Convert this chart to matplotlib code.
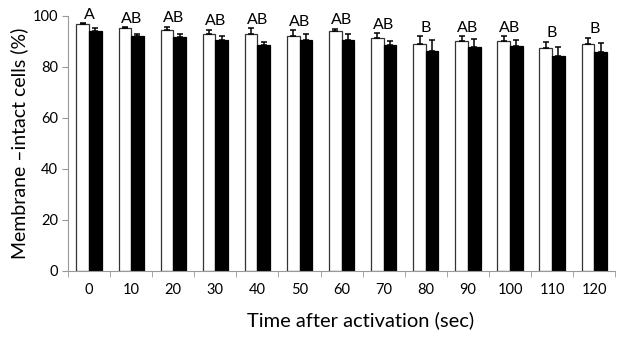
import numpy as np
from matplotlib import pyplot as plt

plt.rcParams["font.family"] = ["Lato", "DejaVu Sans"]

times = ["0", "10", "20", "30", "40", "50", "60", "70", "80", "90", "100", "110", "120"]
white_vals = [96.7, 95.0, 94.3, 92.8, 92.8, 92.2, 94.1, 91.4, 88.9, 90.1, 90.2, 87.3, 88.8]
white_err = [0.3, 0.4, 1.4, 1.7, 2.2, 2.0, 0.7, 1.7, 3.0, 1.9, 1.8, 2.5, 2.6]
black_vals = [93.9, 92.2, 91.5, 90.6, 88.7, 90.5, 90.6, 88.4, 86.2, 87.7, 88.0, 84.1, 85.6]
black_err = [1.2, 0.5, 1.4, 1.6, 0.8, 2.2, 2.1, 1.6, 4.4, 3.0, 2.3, 3.8, 3.6]
letters = ["A", "AB", "AB", "AB", "AB", "AB", "AB", "AB", "B", "AB", "AB", "B", "B"]

fig = plt.figure(figsize=(6.24, 3.38), dpi=100)
ax = fig.add_axes([0.109, 0.199, 0.877, 0.7546])

x = np.arange(len(times))
w = 0.3
ax.bar(x - w / 2, white_vals, w, color="white", edgecolor="#333333", linewidth=0.9,
       yerr=[np.zeros(len(x)), white_err], capsize=2.5,
       error_kw=dict(ecolor="black", elinewidth=1.1, capthick=1.1))
ax.bar(x + w / 2, black_vals, w, color="black", edgecolor="black", linewidth=0.9,
       yerr=[np.zeros(len(x)), black_err], capsize=2.5,
       error_kw=dict(ecolor="black", elinewidth=1.1, capthick=1.1))

tops = np.maximum(np.add(white_vals, white_err), np.add(black_vals, black_err))
for xi, top, lab in zip(x, tops, letters):
    ax.text(xi, top + 0.6, lab, ha="center", va="bottom", fontsize=11.5, clip_on=False)

ax.set_xlim(-0.5, len(times) - 0.5)
ax.set_ylim(0, 100)
ax.set_yticks(range(0, 101, 20))
ax.set_xticks(x)
ax.set_xticklabels(times)
ax.set_xticks(np.arange(-0.5, len(times), 1.0), minor=True)
ax.tick_params(axis="x", which="major", length=0, pad=9, labelsize=10.5)
ax.tick_params(axis="x", which="minor", length=4, color="#999999")
ax.tick_params(axis="y", length=4, color="#999999", labelsize=10.5, pad=3)

for side in ["top", "right"]:
    ax.spines[side].set_visible(False)
for side in ["left", "bottom"]:
    ax.spines[side].set_color("#999999")

ax.set_xlabel("Time after activation (sec)", fontsize=14.5)
ax.xaxis.set_label_coords(0.534, -0.158)
ax.set_ylabel("Membrane \u2013intact cells (%)", fontsize=14)
ax.yaxis.set_label_coords(-0.073, 0.5)

fig.savefig("out.png", dpi=100)
